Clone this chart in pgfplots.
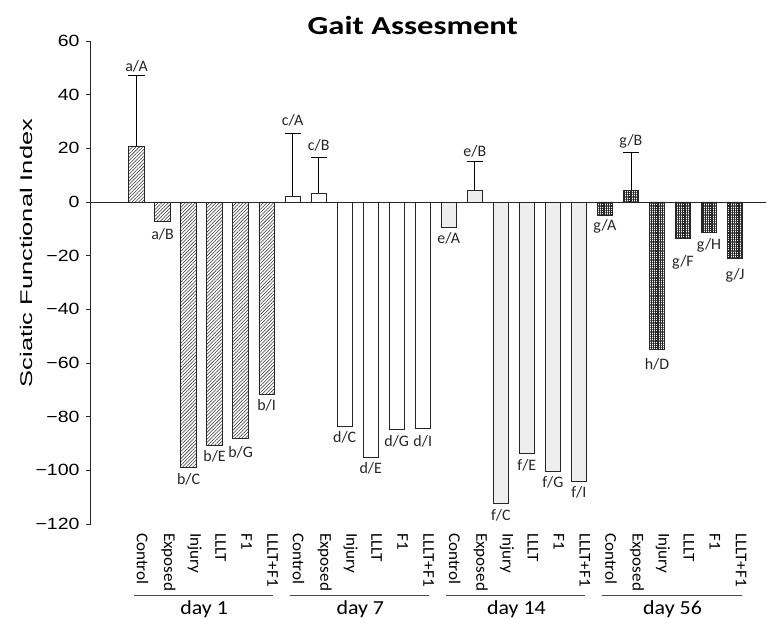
\documentclass[border=0pt]{standalone}
\usepackage{pgfplots}
\pgfplotsset{compat=1.18}
\usepackage{fontspec}
\usepackage{graphicx}
\setmainfont{Carlito}
\newfontfamily\arial{Liberation Sans}
\usetikzlibrary{patterns.meta}
\newcommand\xs[1]{\scalebox{1.04}[1]{#1}}
\newcommand\ys[1]{\scalebox{1.2}[1]{#1}}
\begin{document}
\begin{tikzpicture}
\useasboundingbox (-90.7bp,-95bp) rectangle (676.3bp,524bp);
\begin{axis}[
  at={(0,0)}, anchor=south west,
  scale only axis, width=675.3bp, height=483bp,
  xmin=-1.76, xmax=24.19, ymin=-120, ymax=60,
  axis lines=left,
  axis line style={-, black!85, line width=0.7bp},
  x axis line style={draw=none},
  xtick={0,...,23},
  xticklabels={\xs{Control},\xs{Exposed},\xs{Injury},\xs{LLLT},\xs{F1},\xs{LLLT+F1},
               \xs{Control},\xs{Exposed},\xs{Injury},\xs{LLLT},\xs{F1},\xs{LLLT+F1},
               \xs{Control},\xs{Exposed},\xs{Injury},\xs{LLLT},\xs{F1},\xs{LLLT+F1},
               \xs{Control},\xs{Exposed},\xs{Injury},\xs{LLLT},\xs{F1},\xs{LLLT+F1}},
  xtick style={draw=none},
  xticklabel style={rotate=-90, anchor=west, font=\fontsize{16.5}{16.5}\selectfont, xshift=1bp, yshift=6bp},
  ytick={-120,-100,...,60},
  yticklabels={\ys{−120},\ys{−100},\ys{−80},\ys{−60},\ys{−40},\ys{−20},\ys{0},\ys{20},\ys{40},\ys{60}},
  ytick style={black!85, line width=0.7bp},
  tick align=outside,
  major tick length=4.7bp,
  yticklabel style={font=\arial\fontsize{16.3}{16.3}\selectfont, xshift=-3bp},
  ylabel={\scalebox{1.5}[1]{Sciatic Functional Index}},
  ylabel style={at={(axis description cs:-0.0958,0.561)}, anchor=center, font=\arial\fontsize{17}{17}\selectfont},
  title={\scalebox{1.26}[1]{Gait Assesment}},
  title style={at={(axis description cs:0.477,1)}, anchor=base, yshift=1bp, font=\bfseries\fontsize{26}{26}\selectfont},
  clip=false,
]
% day 1
\addplot[ybar, bar width=15.5bp, bar shift=0pt, draw=black!85, line width=0.7bp,
  pattern={Lines[angle=45,distance=2.4bp,line width=0.55bp]}, pattern color=black!80]
  coordinates {(0,20.8) (1,-7.1) (2,-99.0) (3,-90.8) (4,-88.1) (5,-71.7)};
% day 7
\addplot[ybar, bar width=15.5bp, bar shift=0pt, draw=black!85, line width=0.7bp, fill=white]
  coordinates {(6,2.1) (7,3.35) (8,-83.7) (9,-95.0) (10,-84.7) (11,-84.4)};
% day 14
\addplot[ybar, bar width=15.5bp, bar shift=0pt, draw=black!85, line width=0.7bp,
  pattern={Dots[distance=2bp,radius=0.45bp]}, pattern color=black!80]
  coordinates {(12,-9.4) (13,4.35) (14,-112.3) (15,-93.7) (16,-100.3) (17,-104.0)};
% day 56
\addplot[ybar, bar width=15.5bp, bar shift=0pt, draw=black!85, line width=0.7bp,
  pattern={Hatch[angle=0,distance=1.8bp,line width=0.9bp]}, pattern color=black!85]
  coordinates {(18,-4.85) (19,4.35) (20,-54.9) (21,-13.7) (22,-11.2) (23,-21.1)};
% error bars
\addplot[draw=none, mark=none, forget plot,
  error bars/.cd, y dir=plus, y explicit,
  error bar style={draw=black, solid, line width=0.7bp},
  error mark options={draw=black, solid, rotate=90, mark size=8bp, line width=0.7bp}]
  coordinates {(0,20.8) +- (0,26.3) (6,2.1) +- (0,23.6) (7,3.35) +- (0,13.15) (13,4.35) +- (0,10.65) (19,4.35) +- (0,14.05)};
% letter labels
\addplot[draw=none, mark=none, forget plot, point meta=explicit symbolic,
  nodes near coords, every node near coord/.style={anchor=center, font=\fontsize{16}{16}\selectfont, text=black!85}]
  coordinates {
  (0,50.4) [a/A] (1,-12.0) [a/B] (2,-103.2) [b/C] (3,-94.9) [b/E] (4,-93.1) [b/G] (5,-75.7) [b/I]
  (6,30.6) [c/A] (7,21.0) [c/B] (8,-87.8) [d/C] (9,-99.3) [d/E] (10,-89.1) [d/G] (11,-89.1) [d/I]
  (12,-13.5) [e/A] (13,18.8) [e/B] (14,-116.9) [f/C] (15,-98.0) [f/E] (16,-104.6) [f/G] (17,-108.3) [f/I]
  (18,-9.2) [g/A] (19,22.5) [g/B] (20,-60.4) [h/D] (21,-22.6) [g/F] (22,-16.0) [g/H] (23,-27.2) [g/J]
  };
% zero line
\draw[black!85, line width=0.7bp] (axis cs:-1.76,0) -- (axis cs:24.19,0);
% group lines and labels
\draw[black!70, line width=0.7bp] ([yshift=-71bp]axis cs:-0.1,-120) -- ([yshift=-71bp]axis cs:5.25,-120);
\draw[black!70, line width=0.7bp] ([yshift=-71bp]axis cs:5.9,-120) -- ([yshift=-71bp]axis cs:11.25,-120);
\draw[black!70, line width=0.7bp] ([yshift=-71bp]axis cs:11.9,-120) -- ([yshift=-71bp]axis cs:17.25,-120);
\draw[black!70, line width=0.7bp] ([yshift=-71bp]axis cs:17.9,-120) -- ([yshift=-71bp]axis cs:23.25,-120);
\node[font=\fontsize{20}{20}\selectfont, anchor=center] at ([yshift=-85bp]axis cs:2.6,-120) {\scalebox{1.1}[1]{day 1}};
\node[font=\fontsize{20}{20}\selectfont, anchor=center] at ([yshift=-85bp]axis cs:8.6,-120) {\scalebox{1.1}[1]{day 7}};
\node[font=\fontsize{20}{20}\selectfont, anchor=center] at ([yshift=-85bp]axis cs:14.6,-120) {\scalebox{1.1}[1]{day 14}};
\node[font=\fontsize{20}{20}\selectfont, anchor=center] at ([yshift=-85bp]axis cs:20.6,-120) {\scalebox{1.1}[1]{day 56}};
\end{axis}
\end{tikzpicture}
\end{document}
